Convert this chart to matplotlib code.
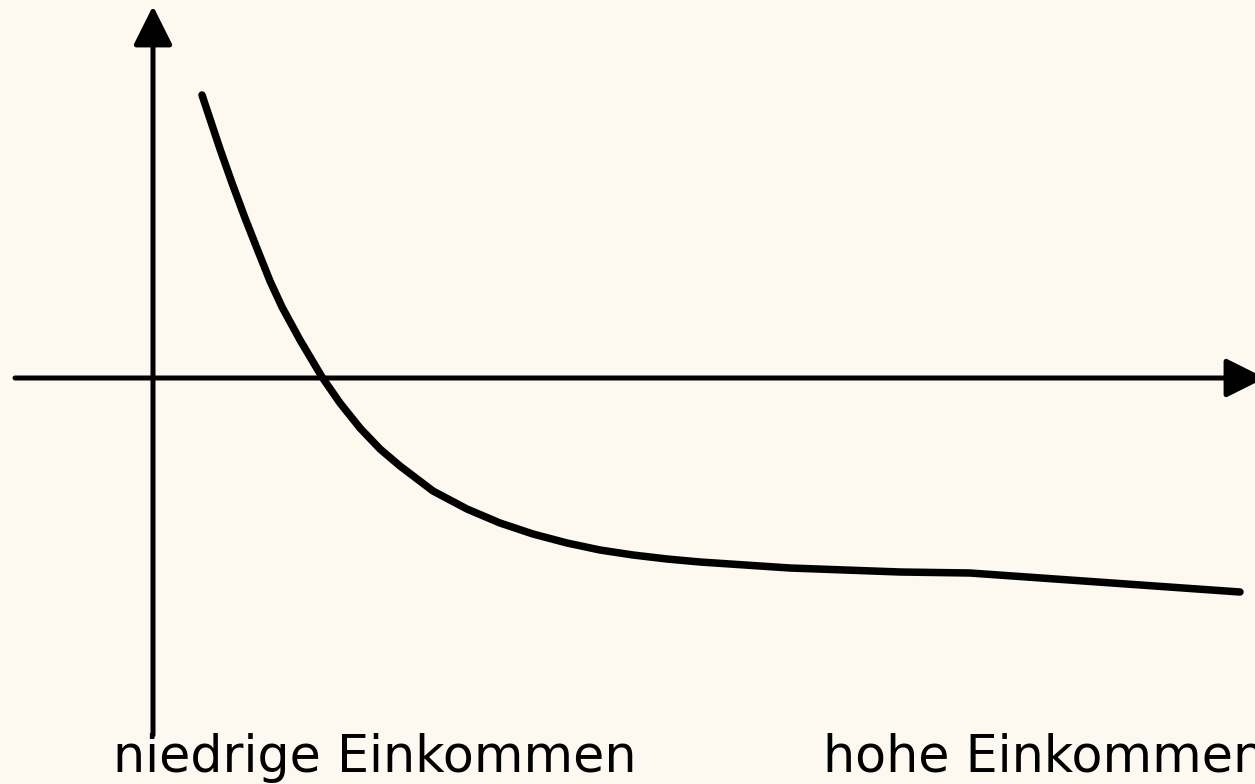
import matplotlib.pyplot as plt
from matplotlib.patches import FancyArrowPatch

# Kurve (Einkommen -> Wert)
einkommen = [0.49, 0.57, 0.67, 0.79, 0.92, 1.05, 1.17, 1.29, 1.47, 1.69,
             1.87, 2.07, 2.27, 2.47, 2.80, 3.14, 3.47, 3.80, 4.14, 4.47,
             4.80, 5.14, 5.47, 6.37, 7.47, 8.17, 10.87]
wert = [2.83, 2.59, 2.29, 1.95, 1.60, 1.27, 0.97, 0.71, 0.38, 0.01,
        -0.25, -0.50, -0.71, -0.88, -1.13, -1.31, -1.45, -1.56, -1.65, -1.72,
        -1.77, -1.81, -1.84, -1.90, -1.94, -1.95, -2.14]

labels = ['niedrige Einkommen', 'hohe Einkommen']
label_x = [-0.40, 6.70]

bg = '#fdf9f1'
fig = plt.figure(figsize=(12.55, 7.84), dpi=100, facecolor=bg)
ax = fig.add_axes([0, 0, 1, 1])
ax.set_facecolor(bg)
ax.set_xlim(-1.53, 11.02)
ax.set_ylim(-4.06, 3.78)
ax.axis('off')

# Achsen mit Pfeilen
style = '-|>,head_length=0.6,head_width=0.3'
for start, end in [((0, -3.57), (0, 3.72)), ((-1.38, 0), (11.12, 0))]:
    arr = FancyArrowPatch(start, end, arrowstyle=style, mutation_scale=40,
                          color='black', lw=3.6, shrinkA=0, shrinkB=0,
                          joinstyle='round', capstyle='round')
    ax.add_patch(arr)

ax.plot(einkommen, wert, color='black', lw=5.4,
        solid_capstyle='round', solid_joinstyle='round')

for lab, lx in zip(labels, label_x):
    ax.text(lx, -3.94, lab, fontsize=36.5, ha='left', va='baseline',
            family='DejaVu Sans', color='black')

fig.savefig('out.png', dpi=100, facecolor=bg)
